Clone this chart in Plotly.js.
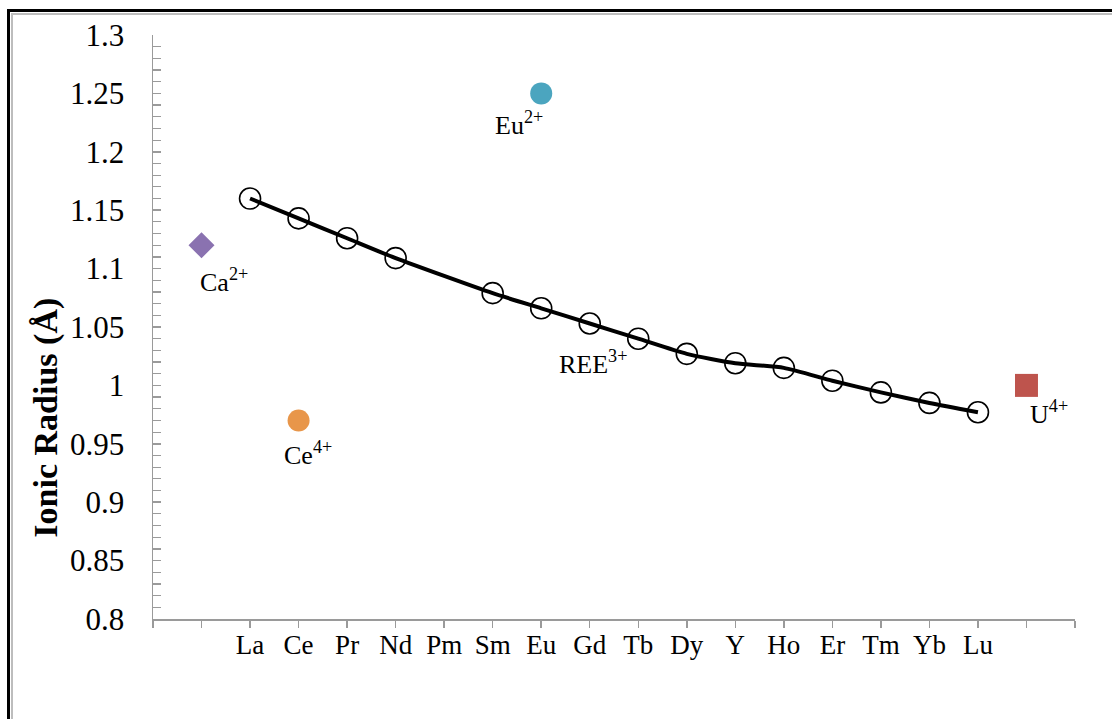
<!DOCTYPE html>
<html>
<head>
<meta charset="utf-8">
<script src="https://cdn.plot.ly/plotly-3.0.1.min.js"></script>
<style>
  html, body { margin: 0; padding: 0; background: #fff; overflow: hidden; }
  #chart { position: absolute; left: 0; top: 0; width: 1112px; height: 719px; }
  .frame1 { position: absolute; left: 7px; top: 9px; width: 1200px; height: 800px;
            border-left: 3px solid #000; border-top: 3px solid #000; pointer-events: none; }
  .frame2 { position: absolute; left: 11px; top: 13px; width: 1200px; height: 800px;
            border-left: 2px solid #bdbdbd; border-top: 2px solid #bdbdbd; pointer-events: none; }
</style>
</head>
<body>
<div id="chart"></div>
<div class="frame1"></div>
<div class="frame2"></div>
<script>
// ---- Data ----
const slots = ['', 'Ca', 'La', 'Ce', 'Pr', 'Nd', 'Pm', 'Sm', 'Eu', 'Gd', 'Tb', 'Dy', 'Y', 'Ho', 'Er', 'Tm', 'Yb', 'Lu', 'U', ''];
const reeElements = ['La', 'Ce', 'Pr', 'Nd', 'Pm', 'Sm', 'Eu', 'Gd', 'Tb', 'Dy', 'Y', 'Ho', 'Er', 'Tm', 'Yb', 'Lu'];
const reeRadius = [1.160, 1.143, 1.126, 1.109, null, 1.079, 1.066, 1.053, 1.040, 1.027, 1.019, 1.015, 1.004, 0.994, 0.985, 0.977];

const otherIons = ['Ca', 'Ce', 'Eu', 'U'];
const otherLabels = ['Ca<sup>2+</sup>', 'Ce<sup>4+</sup>', 'Eu<sup>2+</sup>', 'U<sup>4+</sup>'];
const otherRadius = [1.12, 0.97, 1.25, 1.00];

const yTickVals = [0.8, 0.85, 0.9, 0.95, 1, 1.05, 1.1, 1.15, 1.2, 1.25, 1.3];
const yTickText = ['0.8', '0.85', '0.9', '0.95', '1', '1.05', '1.1', '1.15', '1.2', '1.25', '1.3'];
const xTickText = slots.map(s => (reeElements.indexOf(s) >= 0 ? s : ''));
const yTitle = 'Ionic Radius (Å)';

// ---- Styles ----
const serif = 'Liberation Serif, Times New Roman, serif';
const ionStyles = {
  Ca: { symbol: 'diamond', color: '#8A72B0', size: 20, dx: 22, dy: -35 },
  Ce: { symbol: 'circle', color: '#E8964A', size: 22, dx: 9, dy: -33 },
  Eu: { symbol: 'circle', color: '#4BA5BF', size: 22, dx: -22, dy: -30 },
  U:  { symbol: 'square', color: '#BE544D', size: 23, dx: 23, dy: -27 }
};
const ionPos = name => slots.indexOf(name);

const traces = [];
traces.push({
  type: 'scatter', mode: 'lines+markers',
  x: reeElements.map(ionPos), y: reeRadius,
  connectgaps: true,
  line: { color: '#000', width: 4, shape: 'spline', smoothing: 0.6 },
  marker: { symbol: 'circle-open', size: 21, color: '#000', line: { width: 1.6, color: '#000' } },
  showlegend: false
});
otherIons.forEach((ion, i) => {
  const st = ionStyles[ion];
  traces.push({
    type: 'scatter', mode: 'markers',
    x: [ionPos(ion)], y: [otherRadius[i]],
    marker: { symbol: st.symbol, size: st.size, color: st.color, line: { width: 0 } },
    showlegend: false
  });
});

const annFont = { family: serif, size: 26, color: '#000' };
const annotations = otherIons.map((ion, i) => {
  const st = ionStyles[ion];
  return {
    x: ionPos(ion), y: otherRadius[i], xref: 'x', yref: 'y',
    text: otherLabels[i], showarrow: false, font: annFont,
    xshift: st.dx, yshift: st.dy
  };
});
annotations.push({
  x: ionPos('Gd'), y: reeRadius[reeElements.indexOf('Gd')], xref: 'x', yref: 'y',
  text: 'REE<sup>3+</sup>', showarrow: false, font: annFont, xshift: 3, yshift: -39
});
annotations.push({
  x: -0.117, y: 0.345, xref: 'paper', yref: 'paper',
  text: '<b>' + yTitle + '</b>', textangle: -90, showarrow: false,
  xanchor: 'center', yanchor: 'middle',
  font: { family: serif, size: 34, color: '#000' }
});

const layout = {
  width: 1112, height: 719,
  margin: { l: 153, r: 37, t: 35, b: 100 },
  paper_bgcolor: '#fff', plot_bgcolor: '#fff',
  font: { family: serif, color: '#000' },
  showlegend: false,
  xaxis: {
    range: [0, slots.length - 1],
    tickmode: 'array',
    tickvals: slots.map((s, i) => i),
    ticktext: xTickText,
    ticks: 'outside', ticklen: 7, tickwidth: 1.5, tickcolor: '#9a9a9a',
    showline: true, linecolor: '#9a9a9a', linewidth: 1.5,
    showgrid: false, zeroline: false,
    tickfont: { size: 27, family: serif, color: '#000' },
    ticklabelstandoff: -6
  },
  yaxis: {
    range: [0.8, 1.3],
    tickmode: 'array', tickvals: yTickVals, ticktext: yTickText,
    ticks: 'inside', ticklen: 8, tickwidth: 1.5, tickcolor: '#9a9a9a',
    minor: { dtick: 0.01, ticks: 'inside', ticklen: 8, tickwidth: 1.2, tickcolor: '#9a9a9a', showgrid: false },
    showline: true, linecolor: '#9a9a9a', linewidth: 1.5,
    showgrid: false, zeroline: false,
    tickfont: { size: 31, family: serif, color: '#000' },
    ticklabelstandoff: 21
  },
  annotations: annotations
};

Plotly.newPlot('chart', traces, layout, { displayModeBar: false, staticPlot: true });
</script>
</body>
</html>
